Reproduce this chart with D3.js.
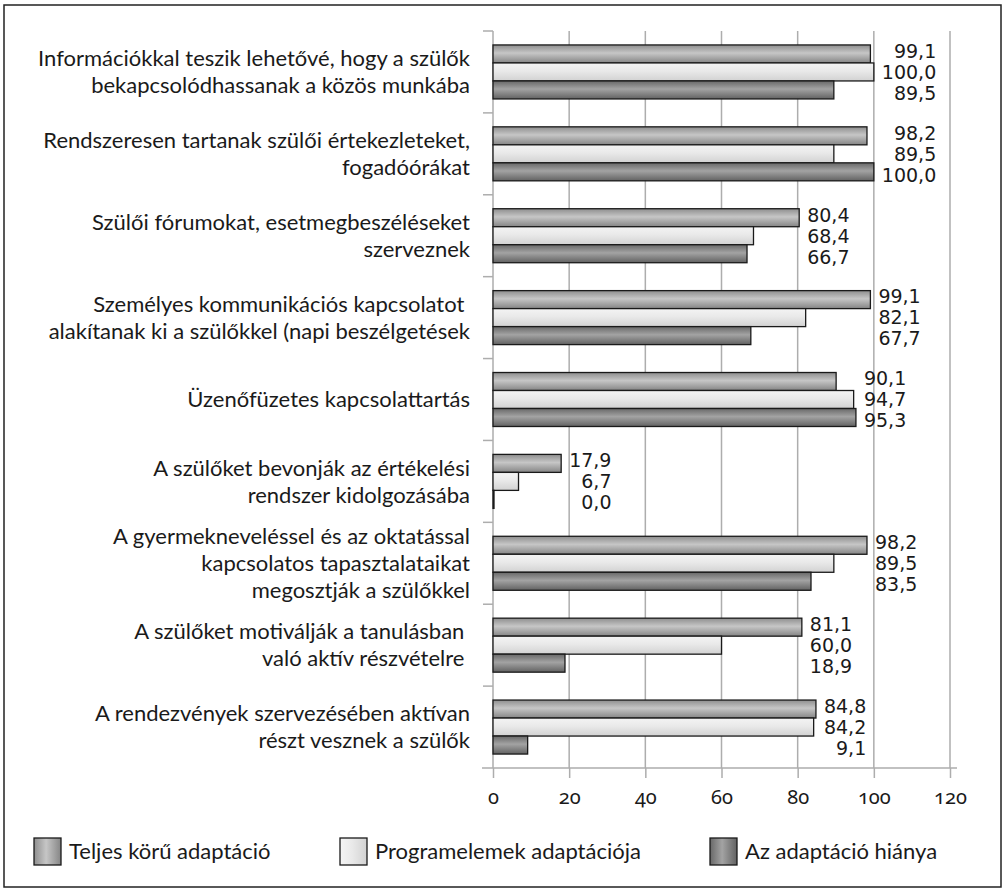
<!DOCTYPE html>
<html>
<head>
<meta charset="utf-8">
<script src="https://cdn.jsdelivr.net/npm/d3@7"></script>
<style>
  body { margin: 0; background: #fff; }
  .cat-label { font-family: Lato, "Noto Sans", sans-serif; font-size: 22px; fill: #1a1a1a; white-space: pre; }
  .val-label { font-family: "DejaVu Sans", sans-serif; font-size: 19px; fill: #1a1a1a; }
  .tick text { font-family: "Noto Sans", Lato, sans-serif; font-size: 20px; fill: #1a1a1a; font-variant-numeric: oldstyle-nums; }
  .legend text { font-family: Lato, "Noto Sans", sans-serif; font-size: 22px; fill: #1a1a1a; }
</style>
</head>
<body>
<div id="chart"></div>
<script>
const categories = [
  ["Információkkal teszik lehetővé, hogy a szülők", "bekapcsolódhassanak a közös munkába"],
  ["Rendszeresen tartanak szülői értekezleteket,", "fogadóórákat"],
  ["Szülői fórumokat, esetmegbeszéléseket", "szerveznek"],
  ["Személyes kommunikációs kapcsolatot ", "alakítanak ki a szülőkkel (napi beszélgetések"],
  ["Üzenőfüzetes kapcsolattartás"],
  ["A szülőket bevonják az értékelési", "rendszer kidolgozásába"],
  ["A gyermekneveléssel és az oktatással", "kapcsolatos tapasztalataikat", "megosztják a szülőkkel"],
  ["A szülőket motiválják a tanulásban ", "való aktív részvételre "],
  ["A rendezvények szervezésében aktívan", "részt vesznek a szülők"]
]

const seriesNames = ["Teljes körű adaptáció", "Programelemek adaptációja", "Az adaptáció hiánya"]

const teljes = [99.1, 98.2, 80.4, 99.1, 90.1, 17.9, 98.2, 81.1, 84.8]
const programelemek = [100.0, 89.5, 68.4, 82.1, 94.7, 6.7, 89.5, 60.0, 84.2]
const hiany = [89.5, 100.0, 66.7, 67.7, 95.3, 0.0, 83.5, 18.9, 9.1]

const xTicks = [0, 20, 40, 60, 80, 100, 120]

const width = 1003
const height = 889
const margin = {top: 31, left: 493, right: 53, bottom: 121}

const seriesValues = [teljes, programelemek, hiany]
const data = categories.map((c, i) => ({
  i: i,
  lines: c,
  values: seriesValues.map(s => s[i])
}))

// gradient stops: top / middle / bottom
const shades = [
  ["#8e8e8e", "#c6c6c6", "#858585"],
  ["#f4f4f4", "#e9e9e9", "#d2d2d2"],
  ["#686868", "#a3a3a3", "#626262"]
]

const svg = d3.select('#chart').append('svg')
  .attr('width', width)
  .attr('height', height)

const defs = svg.append('defs')
shades.forEach((s, k) => {
  const v = defs.append('linearGradient')
    .attr('id', 'bar' + k)
    .attr('x1', 0).attr('y1', 0).attr('x2', 0).attr('y2', 1)
  v.append('stop').attr('offset', '0%').attr('stop-color', s[0])
  v.append('stop').attr('offset', '45%').attr('stop-color', s[1])
  v.append('stop').attr('offset', '100%').attr('stop-color', s[2])

  const h = defs.append('linearGradient')
    .attr('id', 'leg' + k)
    .attr('x1', 0).attr('y1', 0).attr('x2', 1).attr('y2', 0)
  h.append('stop').attr('offset', '0%').attr('stop-color', s[0])
  h.append('stop').attr('offset', '45%').attr('stop-color', s[1])
  h.append('stop').attr('offset', '100%').attr('stop-color', s[2])
})

svg.append('rect')
  .attr('x', 4).attr('y', 5)
  .attr('width', 997).attr('height', 882)
  .attr('fill', 'none')
  .attr('stroke', '#222')
  .attr('stroke-width', 1.5)

const x = d3.scaleLinear()
  .domain([0, 120])
  .range([margin.left, width - margin.right])

const y = d3.scaleBand()
  .domain(d3.range(categories.length))
  .range([margin.top, height - margin.bottom])

const inner = d3.scaleBand()
  .domain(d3.range(3))
  .range([0, 54])

const groupOffset = (y.bandwidth() - 54) / 2

// gridlines
svg.append('g')
  .selectAll('line')
  .data(xTicks.slice(1))
  .enter()
  .append('line')
  .attr('x1', d => x(d)).attr('x2', d => x(d))
  .attr('y1', margin.top).attr('y2', height - margin.bottom)
  .attr('stroke', '#adadad')
  .attr('stroke-width', 1.5)

// bottom axis
const xAxis = svg.append('g')
  .attr('transform', `translate(0, ${height - margin.bottom})`)
  .call(d3.axisBottom(x).tickValues(xTicks).tickSize(10).tickPadding(12).tickSizeOuter(0))
xAxis.select('.domain')
  .attr('d', `M${x(0) - 11},0H${x(120) + 7}`)
  .attr('stroke', '#adadad').attr('stroke-width', 1.5)
xAxis.selectAll('.tick line').attr('stroke', '#adadad').attr('stroke-width', 1.5)

// left axis with category boundary ticks
svg.append('line')
  .attr('x1', x(0)).attr('x2', x(0))
  .attr('y1', margin.top).attr('y2', height - margin.bottom)
  .attr('stroke', '#adadad').attr('stroke-width', 1.5)

svg.append('g')
  .selectAll('line')
  .data(d3.range(categories.length))
  .enter()
  .append('line')
  .attr('x1', x(0) - 10).attr('x2', x(0))
  .attr('y1', d => y(d)).attr('y2', d => y(d))
  .attr('stroke', '#adadad').attr('stroke-width', 1.5)

// bars
const groups = svg.append('g')
  .selectAll('.group')
  .data(data)
  .enter()
  .append('g')
  .attr('class', 'group')
  .attr('transform', d => `translate(0, ${y(d.i) + groupOffset})`)

groups.selectAll('rect')
  .data(d => d.values.map((v, k) => ({v: v, k: k})))
  .enter()
  .append('rect')
  .attr('x', x(0))
  .attr('y', d => inner(d.k))
  .attr('width', d => Math.max(x(d.v) - x(0), 1))
  .attr('height', inner.bandwidth())
  .attr('fill', d => `url(#bar${d.k})`)
  .attr('stroke', '#1a1a1a')
  .attr('stroke-width', 1.3)

// value labels, right aligned in a column after the longest bar
const labelStep = 21
groups.each(function(d) {
  const g = d3.select(this)
  const texts = g.selectAll('.val-label')
    .data(d.values.map((v, k) => ({v: v, k: k})))
    .enter()
    .append('text')
    .attr('class', 'val-label')
    .attr('y', k => 27 + (k.k - 1) * labelStep)
    .attr('dy', '0.36em')
    .attr('text-anchor', 'end')
    .text(k => d3.format('.1f')(k.v).replace('.', ','))
  let w = 0
  texts.each(function() { w = Math.max(w, this.getComputedTextLength()) })
  texts.attr('x', x(d3.max(d.values)) + 8 + w)
})

// category labels
const lineStep = 27
const catLabels = svg.append('g')
  .selectAll('.cat-label')
  .data(data)
  .enter()
  .append('text')
  .attr('class', 'cat-label')
  .attr('text-anchor', 'end')
  .attr('x', 470)
  .attr('y', d => y(d.i) + y.bandwidth() / 2 - (d.lines.length - 1) * lineStep / 2)

catLabels.selectAll('tspan')
  .data(d => d.lines)
  .enter()
  .append('tspan')
  .attr('x', 470)
  .attr('dy', (d, i) => i === 0 ? '0.35em' : lineStep)
  .text(d => d)

// legend
const legendX = [34, 340, 710]
const legend = svg.append('g')
  .attr('class', 'legend')
  .selectAll('g')
  .data(seriesNames)
  .enter()
  .append('g')
  .attr('transform', (d, i) => `translate(${legendX[i]}, 838)`)

legend.append('rect')
  .attr('width', 27).attr('height', 27)
  .attr('fill', (d, i) => `url(#leg${i})`)
  .attr('stroke', '#1a1a1a')
  .attr('stroke-width', 1.3)

legend.append('text')
  .attr('x', 35)
  .attr('y', 21)
  .text(d => d)
</script>
</body>
</html>
